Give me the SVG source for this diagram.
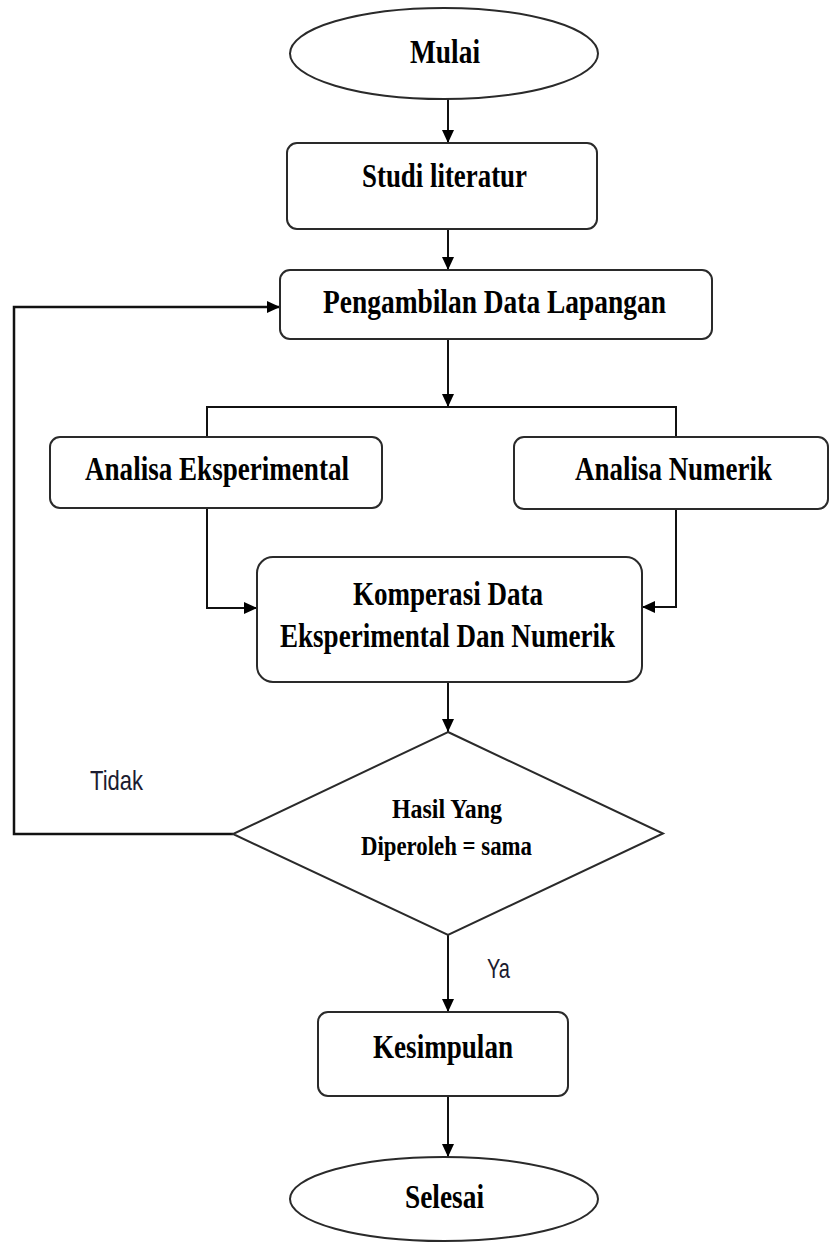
<svg xmlns="http://www.w3.org/2000/svg" width="829" height="1242" viewBox="0 0 829 1242">
<style>
.node{fill:#fff;stroke:#2a2a2a;stroke-width:2}
.t{font-family:"Liberation Serif","Times New Roman",serif;font-weight:bold;font-size:33px;fill:#000;text-anchor:middle}
.td{font-size:28px}
.lbl{font-family:"Liberation Sans",Arial,sans-serif;font-size:28px;fill:#1c1c30}
.c{fill:none;stroke:#111;stroke-width:2}
</style>
<defs>
<marker id="ah" markerUnits="userSpaceOnUse" markerWidth="14" markerHeight="14" refX="13" refY="6" orient="auto">
<path d="M0,0 L13,6 L0,12 z" fill="#000"/>
</marker>
</defs>
<rect width="829" height="1242" fill="#fff"/>
<g id="connectors">
<line class="c" x1="448" y1="99" x2="448" y2="143" marker-end="url(#ah)"/>
<line class="c" x1="448" y1="229" x2="448" y2="270" marker-end="url(#ah)"/>
<line class="c" x1="448" y1="339" x2="448" y2="407" marker-end="url(#ah)"/>
<polyline class="c" points="207,437 207,407 676,407 676,437"/>
<polyline class="c" points="207,508 207,608 257,608" marker-end="url(#ah)"/>
<polyline class="c" points="676,509 676,607 642,607" marker-end="url(#ah)"/>
<line class="c" x1="448" y1="682" x2="448" y2="732" marker-end="url(#ah)"/>
<polyline class="c" points="233,834 14,834 14,307 280,307" marker-end="url(#ah)" style="stroke-width:2.5"/>
<line class="c" x1="448" y1="935" x2="448" y2="1012" marker-end="url(#ah)"/>
<line class="c" x1="448" y1="1096" x2="448" y2="1157" marker-end="url(#ah)"/>
<text class="lbl" x="90" y="790" textLength="53" lengthAdjust="spacingAndGlyphs">Tidak</text>
<text class="lbl" x="487" y="978" textLength="23" lengthAdjust="spacingAndGlyphs">Ya</text>
</g>
<g id="mulai">
<ellipse class="node" cx="444" cy="53.5" rx="154" ry="45.5"/>
<text class="t" x="445" y="63" textLength="70" lengthAdjust="spacingAndGlyphs">Mulai</text>
</g>
<g id="studi">
<rect class="node" x="287" y="143" width="310" height="86" rx="10"/>
<text class="t" x="444.5" y="187" textLength="165" lengthAdjust="spacingAndGlyphs">Studi literatur</text>
</g>
<g id="pengambilan">
<rect class="node" x="280" y="270" width="432" height="69" rx="10"/>
<text class="t" x="494.5" y="313" textLength="343" lengthAdjust="spacingAndGlyphs">Pengambilan Data Lapangan</text>
</g>
<g id="eksperimental">
<rect class="node" x="50" y="437" width="332" height="71" rx="10"/>
<text class="t" x="217" y="480" textLength="264" lengthAdjust="spacingAndGlyphs">Analisa Eksperimental</text>
</g>
<g id="numerik">
<rect class="node" x="514" y="437" width="314" height="72" rx="10"/>
<text class="t" x="673.5" y="480" textLength="197" lengthAdjust="spacingAndGlyphs">Analisa Numerik</text>
</g>
<g id="komperasi">
<rect class="node" x="257" y="557" width="385" height="125" rx="16"/>
<text class="t" x="448" y="605" textLength="190" lengthAdjust="spacingAndGlyphs">Komperasi Data</text>
<text class="t" x="447.5" y="647" textLength="335" lengthAdjust="spacingAndGlyphs">Eksperimental Dan Numerik</text>
</g>
<g id="keputusan">
<polygon class="node" points="448,732 663,833.5 448,935 233,834"/>
<text class="t td" x="447" y="818" textLength="110" lengthAdjust="spacingAndGlyphs">Hasil Yang</text>
<text class="t td" x="446.5" y="855" textLength="171" lengthAdjust="spacingAndGlyphs">Diperoleh = sama</text>
</g>
<g id="kesimpulan">
<rect class="node" x="318" y="1012" width="250" height="84" rx="10"/>
<text class="t" x="443" y="1058" textLength="140" lengthAdjust="spacingAndGlyphs">Kesimpulan</text>
</g>
<g id="selesai">
<ellipse class="node" cx="444" cy="1199" rx="154" ry="42"/>
<text class="t" x="444.5" y="1208" textLength="79" lengthAdjust="spacingAndGlyphs">Selesai</text>
</g>
</svg>
